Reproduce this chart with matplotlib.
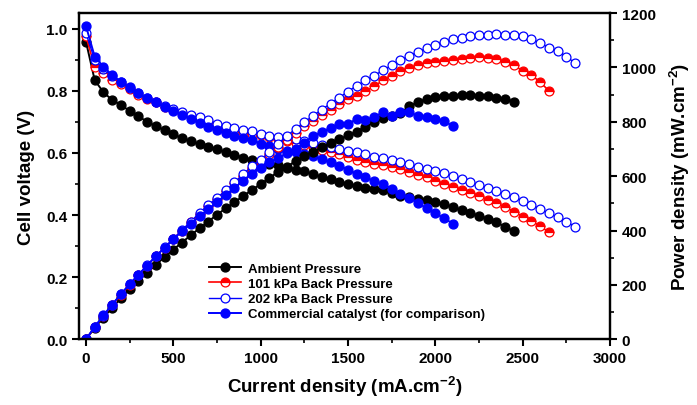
import matplotlib
matplotlib.use('Agg')
import matplotlib.pyplot as plt
from matplotlib.ticker import MultipleLocator, FormatStrFormatter
import numpy as np

plt.rcParams['font.family'] = ['Liberation Sans', 'DejaVu Sans']
plt.rcParams['font.weight'] = 'bold'
plt.rcParams['mathtext.fontset'] = 'custom'
plt.rcParams['mathtext.rm'] = 'Liberation Sans:bold'
plt.rcParams['mathtext.default'] = 'rm'

# current density steps (mA/cm2), 50 mA/cm2 apart
i_amb = np.arange(0, 2451, 50)
i_101 = np.arange(0, 2651, 50)
i_202 = np.arange(0, 2801, 50)
i_com = np.arange(0, 2101, 50)

# cell voltage (V)
v_amb = [0.958, 0.834, 0.795, 0.770, 0.754, 0.735, 0.718, 0.700, 0.686, 0.673,
         0.660, 0.647, 0.638, 0.628, 0.619, 0.611, 0.602, 0.593, 0.585, 0.578,
         0.571, 0.565, 0.560, 0.552, 0.546, 0.540, 0.531, 0.523, 0.515, 0.507,
         0.500, 0.493, 0.488, 0.484, 0.479, 0.470, 0.462, 0.457, 0.452, 0.448,
         0.442, 0.435, 0.426, 0.416, 0.406, 0.398, 0.388, 0.376, 0.362, 0.348]
v_101 = [0.975, 0.877, 0.858, 0.836, 0.822, 0.805, 0.786, 0.774, 0.763, 0.748,
         0.737, 0.727, 0.717, 0.707, 0.698, 0.689, 0.681, 0.674, 0.667, 0.662,
         0.656, 0.650, 0.644, 0.638, 0.632, 0.626, 0.618, 0.610, 0.602, 0.596,
         0.588, 0.578, 0.570, 0.564, 0.560, 0.554, 0.547, 0.539, 0.530, 0.521,
         0.510, 0.500, 0.489, 0.480, 0.471, 0.462, 0.449, 0.439, 0.425, 0.411,
         0.395, 0.381, 0.364, 0.345]
v_202 = [0.985, 0.899, 0.869, 0.848, 0.828, 0.810, 0.792, 0.777, 0.764, 0.751,
         0.740, 0.730, 0.722, 0.715, 0.706, 0.693, 0.685, 0.679, 0.674, 0.670,
         0.661, 0.655, 0.652, 0.650, 0.645, 0.639, 0.632, 0.626, 0.619, 0.613,
         0.607, 0.602, 0.595, 0.588, 0.582, 0.576, 0.570, 0.564, 0.556, 0.549,
         0.542, 0.534, 0.525, 0.516, 0.507, 0.497, 0.487, 0.477, 0.466, 0.457,
         0.446, 0.433, 0.419, 0.405, 0.393, 0.378, 0.363]
v_com = [1.008, 0.910, 0.877, 0.850, 0.829, 0.811, 0.791, 0.775, 0.764, 0.747,
         0.736, 0.722, 0.708, 0.695, 0.683, 0.673, 0.664, 0.655, 0.648, 0.641,
         0.630, 0.622, 0.614, 0.606, 0.602, 0.597, 0.589, 0.580, 0.570, 0.559,
         0.546, 0.532, 0.521, 0.509, 0.499, 0.485, 0.469, 0.454, 0.440, 0.421,
         0.405, 0.390, 0.372]

# power density (mW/cm2)
p_amb = [0, 42, 80, 116, 151, 184, 215, 245, 274, 303,
         330, 356, 383, 408, 433, 458, 482, 504, 527, 549,
         571, 593, 616, 635, 655, 675, 690, 706, 721, 735,
         750, 764, 781, 799, 814, 823, 832, 857, 872, 884,
         890, 894, 896, 898, 898, 896, 894, 887, 884, 874]
p_101 = [0, 44, 86, 125, 164, 201, 236, 271, 305, 337,
         369, 400, 430, 460, 489, 517, 545, 573, 600, 629,
         656, 683, 708, 734, 758, 783, 803, 824, 843, 864,
         882, 896, 912, 931, 952, 970, 985, 997, 1007, 1016,
         1020, 1025, 1027, 1032, 1036, 1040, 1033, 1032, 1020, 1007,
         988, 972, 946, 914]
p_202 = [0, 45, 87, 127, 166, 203, 238, 272, 306, 338,
         370, 402, 433, 465, 494, 520, 548, 577, 607, 637,
         661, 688, 717, 748, 774, 799, 822, 845, 867, 889,
         911, 933, 952, 970, 989, 1008, 1026, 1043, 1056, 1071,
         1084, 1095, 1103, 1109, 1115, 1118, 1120, 1121, 1118, 1120,
         1115, 1104, 1089, 1073, 1061, 1040, 1016]
p_com = [0, 46, 88, 128, 166, 203, 237, 271, 306, 336,
         368, 397, 425, 452, 478, 505, 531, 557, 583, 609,
         630, 651, 666, 685, 700, 722, 749, 762, 778, 790,
         790, 812, 806, 818, 835, 822, 835, 835, 822, 819,
         810, 804, 783]

labels = ['Ambient Pressure', '101 kPa Back Pressure',
          '202 kPa Back Pressure', 'Commercial catalyst (for comparison)']

fig = plt.figure(figsize=(6.97, 4.06), dpi=100)
ax = fig.add_axes([0.1133, 0.1618, 0.7619, 0.8037])
ax2 = ax.twinx()

ms = 6.4
st_amb = dict(color='black', lw=1.4, marker='o', ms=ms, mfc='black', mec='black')
st_101 = dict(color='red', lw=1.2, marker='o', ms=ms, mfc='red', mec='red',
              fillstyle='top', markerfacecoloralt='white', mew=0.9)
st_202 = dict(color='blue', lw=1.0, marker='o', ms=ms, mfc='white', mec='blue', mew=0.9)
st_com = dict(color='blue', lw=1.4, marker='o', ms=ms, mfc='blue', mec='blue')

h1, = ax.plot(i_amb, v_amb, **st_amb)
h2, = ax.plot(i_101, v_101, **st_101)
h3, = ax.plot(i_202, v_202, **st_202)
h4, = ax.plot(i_com, v_com, **st_com)

ax2.plot(i_amb, p_amb, **st_amb)
ax2.plot(i_101, p_101, **st_101)
ax2.plot(i_202, p_202, **st_202)
ax2.plot(i_com, p_com, **st_com)

ax.set_xlim(-40, 3000)
ax.set_ylim(0, 1.05)
ax2.set_ylim(0, 1200)

ax.xaxis.set_major_locator(MultipleLocator(500))
ax.xaxis.set_minor_locator(MultipleLocator(250))
ax.yaxis.set_major_locator(MultipleLocator(0.2))
ax.yaxis.set_minor_locator(MultipleLocator(0.1))
ax.yaxis.set_major_formatter(FormatStrFormatter('%.1f'))
ax2.yaxis.set_major_locator(MultipleLocator(200))
ax2.yaxis.set_minor_locator(MultipleLocator(100))

for a in (ax, ax2):
    for s in a.spines.values():
        s.set_linewidth(1.6)
    a.tick_params(which='major', length=5, width=1.5, direction='out', labelsize=11)
    a.tick_params(which='minor', length=3, width=1.2, direction='out')
ax.tick_params(top=False, which='both')
ax.tick_params(axis='y', right=False, which='both')
ax2.tick_params(axis='y', left=False, which='both')

ax.set_xlabel(r'Current density (mA.cm$^{-2}$)', fontsize=13.5, fontweight='bold', labelpad=6)
ax.set_ylabel('Cell voltage (V)', fontsize=13.5, fontweight='bold', labelpad=8)
ax2.set_ylabel(r'Power density (mW.cm$^{-2}$)', fontsize=13.5, fontweight='bold', labelpad=9)

ax.legend([h1, h2, h3, h4], labels, loc='upper left', bbox_to_anchor=(0.245, 0.235),
          frameon=False, fontsize=9.5, handlelength=2.4, handletextpad=0.55,
          labelspacing=0.22, borderpad=0, borderaxespad=0)

fig.savefig('out.png', dpi=100)
